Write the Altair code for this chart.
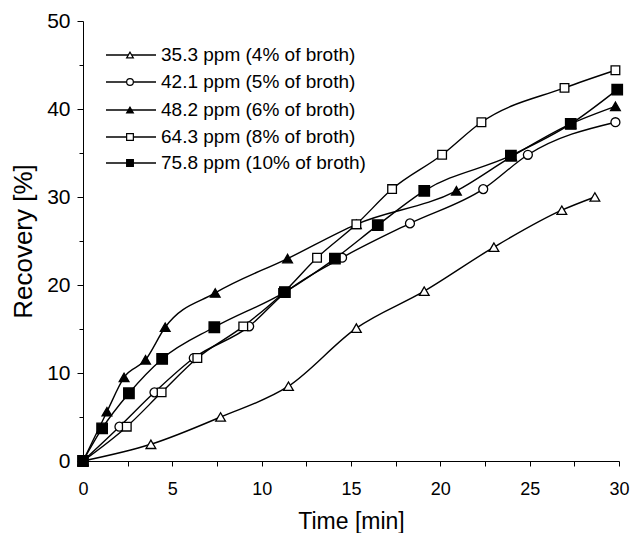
import altair as alt
import pandas as pd

# ---- data ----
labels = ["35.3 ppm (4% of broth)", "42.1 ppm (5% of broth)", "48.2 ppm (6% of broth)",
          "64.3 ppm (8% of broth)", "75.8 ppm (10% of broth)"]

x_353 = [0, 3.8, 7.7, 11.5, 15.3, 19.1, 23.0, 26.8, 28.65]
y_353 = [0, 1.9, 5.0, 8.5, 15.1, 19.3, 24.3, 28.5, 30.0]

x_421 = [0, 2.04, 4.0, 6.2, 9.3, 11.3, 14.5, 18.3, 22.4, 24.9, 29.8]
y_421 = [0, 3.9, 7.8, 11.7, 15.3, 19.1, 23.1, 27.0, 30.9, 34.8, 38.5]

x_482 = [0, 1.34, 2.3, 3.5, 4.6, 7.4, 11.45, 15.3, 20.9, 24.0, 27.3, 29.8]
y_482 = [0, 5.6, 9.5, 11.5, 15.2, 19.1, 23.0, 26.9, 30.7, 34.6, 38.3, 40.3]

x_643 = [0, 2.45, 4.4, 6.4, 8.97, 11.2, 13.1, 15.3, 17.3, 20.1, 22.3, 26.95, 29.8]
y_643 = [0, 3.9, 7.8, 11.7, 15.3, 19.1, 23.1, 26.9, 30.9, 34.8, 38.5, 42.4, 44.4]

x_758 = [0, 1.07, 2.57, 4.43, 7.35, 11.3, 14.1, 16.5, 19.1, 23.95, 27.3, 29.9]
y_758 = [0, 3.7, 7.7, 11.6, 15.2, 19.2, 23.0, 26.8, 30.7, 34.7, 38.3, 42.2]

xs = [x_353, x_421, x_482, x_643, x_758]
ys = [y_353, y_421, y_482, y_643, y_758]
shapes = ["triangle-up", "circle", "triangle-up", "square", "square"]
filled = [False, False, True, False, True]
msize = [95, 80, 95, 75, 110]

FONT = "Liberation Sans"
xscale = alt.Scale(domain=[0, 30], nice=False, zero=False)
yscale = alt.Scale(domain=[0, 50], nice=False, zero=False)

xaxis = alt.Axis(values=[i * 2.5 for i in range(13)],
                 labelExpr="datum.value % 5 === 0 ? datum.label : ''",
                 title="Time [min]", grid=False, tickSize=5, labelPadding=14,
                 labelFontSize=18, titleFontSize=23, titlePadding=12, labelFlush=False)
yaxis = alt.Axis(values=[i * 5 for i in range(11)],
                 labelExpr="datum.value % 10 === 0 ? datum.label : ''",
                 title="Recovery [%]", grid=False,
                 tickSize={"condition": {"test": "datum.value % 10 === 0", "value": 6}, "value": 4},
                 labelFontSize=21, titleFontSize=26, labelPadding=7, titlePadding=10)

lines = []
points = []
for i in range(5):
    df = pd.DataFrame({"t": xs[i], "r": ys[i], "s": labels[i]})
    base = alt.Chart(df)
    lines.append(base.mark_line(color="black", strokeWidth=1.4, interpolate="monotone").encode(
        x=alt.X("t:Q", scale=xscale, axis=xaxis),
        y=alt.Y("r:Q", scale=yscale, axis=yaxis),
    ))
    points.append(base.mark_point(shape=shapes[i], size=msize[i], filled=True,
                                  fill="black" if filled[i] else "white",
                                  stroke="black", strokeWidth=1.3, opacity=1).encode(
        x=alt.X("t:Q", scale=xscale),
        y=alt.Y("r:Q", scale=yscale),
    ))

# manual legend (top-left inside plot)
leg = []
row_y = [34, 61, 89, 116, 142]
for i in range(5):
    d = alt.Data(values=[{"lab": labels[i]}])
    leg.append(alt.Chart(d).mark_rule(color="black", strokeWidth=1.4).encode(
        x=alt.value(23), x2=alt.value(73), y=alt.value(row_y[i])))
    leg.append(alt.Chart(d).mark_point(shape=shapes[i], size=45, filled=True,
                                       fill="black" if filled[i] else "white",
                                       stroke="black", strokeWidth=1.2, opacity=1).encode(
        x=alt.value(47), y=alt.value(row_y[i])))
    leg.append(alt.Chart(d).mark_text(align="left", baseline="middle", font=FONT,
                                      fontSize=19, color="black").encode(
        x=alt.value(78), y=alt.value(row_y[i]), text="lab:N"))

chart = alt.layer(*lines, *points, *leg).properties(
    width=536, height=440,
    autosize=alt.AutoSizeParams(type="none"),
    padding={"left": 75, "top": 13, "right": 11, "bottom": 72},
).configure_view(stroke=None).configure_axis(
    labelFont=FONT, titleFont=FONT,
    titleFontWeight="normal", labelColor="black", titleColor="black",
    domainColor="black", tickColor="black", domainWidth=1, tickWidth=1,
)

chart.save("out.html", embed_options={"renderer": "svg", "actions": False})
